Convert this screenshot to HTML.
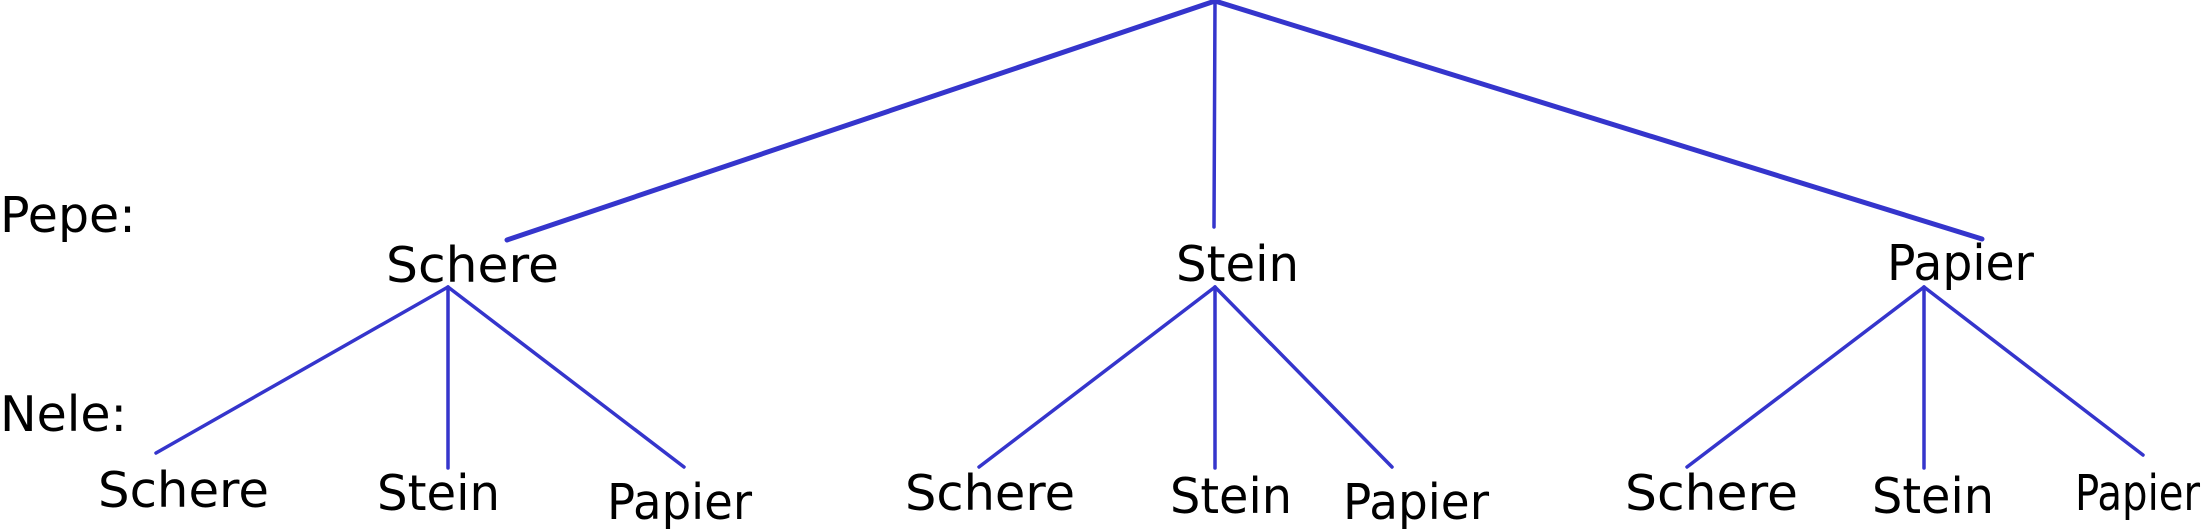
<!DOCTYPE html>
<html><head><meta charset="utf-8"><style>
html,body{margin:0;padding:0;background:#fff;}
svg{display:block;}
text{font-family:"DejaVu Sans","Liberation Sans",sans-serif;font-size:49px;fill:#000;}
</style></head><body>
<svg id="tree" width="2205" height="530" viewBox="0 0 2205 530" xmlns="http://www.w3.org/2000/svg">
<g id="edges"></g><g id="labels"></g>
<text x="0" y="232">Pepe:</text>
<text x="0" y="431">Nele:</text>
</svg>
<script>
// edges: [x1,y1,x2,y2,width]
const edgeX1 = [1215,1215,1215, 448,448,448, 1215,1215,1215, 1924,1924,1924];
const edgeY1 = [1,1,1, 287,287,287, 287,287,287, 287,287,287];
const edgeX2 = [507,1214,1982, 156,448,684, 979,1215,1392, 1687,1924,2143];
const edgeY2 = [240,227,239, 453,468,467, 467,468,467, 467,468,455];
const edgeW  = [5,3.5,5, 3.5,3.5,3.5, 3.5,3.5,3.5, 3.5,3.5,3.5];
const labelText = ["Schere","Stein","Papier","Schere","Stein","Papier","Schere","Stein","Papier","Schere","Stein","Papier"];
const labelX = [386,1176,1887, 98,377,607, 905,1170,1343, 1625,1872,2075];
const labelY = [282,281,280, 507,510,519, 510,513,519, 510,513,510];
const labelW = [173,123,147, 171,123,145, 170,122,146, 173,122,125];
const NS="http://www.w3.org/2000/svg";
const eg=document.getElementById('edges'), lg=document.getElementById('labels');
for(let i=0;i<edgeX1.length;i++){
  const l=document.createElementNS(NS,'line');
  l.setAttribute('x1',edgeX1[i]);l.setAttribute('y1',edgeY1[i]);
  l.setAttribute('x2',edgeX2[i]);l.setAttribute('y2',edgeY2[i]);
  l.setAttribute('stroke','#3535cc');l.setAttribute('stroke-width',edgeW[i]);
  l.setAttribute('stroke-linecap','round');
  
  
  eg.appendChild(l);
}
for(let i=0;i<labelText.length;i++){
  const t=document.createElementNS(NS,'text');
  t.setAttribute('x',labelX[i]);t.setAttribute('y',labelY[i]);
  t.setAttribute('textLength',labelW[i]);t.setAttribute('lengthAdjust','spacingAndGlyphs');
  t.textContent=labelText[i];
  
  
  lg.appendChild(t);
}
</script>
</body></html>
